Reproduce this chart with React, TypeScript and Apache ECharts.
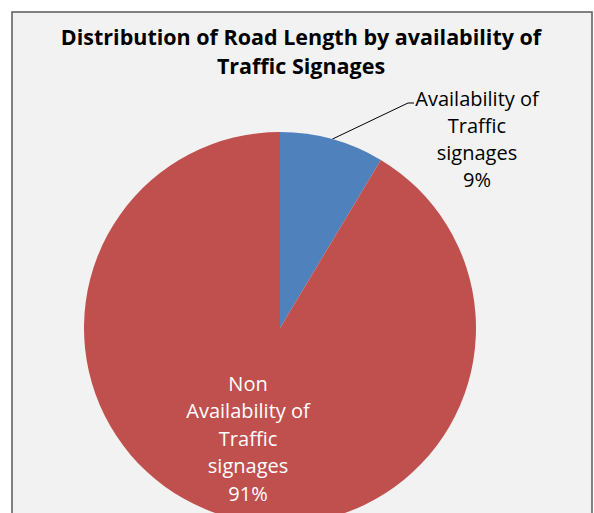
import React, { useEffect, useRef } from "react";
import * as echarts from "echarts";

const categories = ["Availability of\nTraffic\nsignages", "Non\nAvailability of\nTraffic\nsignages"];
const values = [8.6, 91.4];
const colors = ["#4f81bd", "#c0504d"];
const titleText = "Distribution of Road Length by availability of\nTraffic Signages";

export default function App() {
  const ref = useRef<HTMLDivElement>(null);
  useEffect(() => {
    if (!ref.current) return;
    const chart = echarts.init(ref.current, null, { renderer: "svg" });
    const font = "'Open Sans', Lato, sans-serif";
    const total = values.reduce((a, b) => a + b, 0);
    chart.setOption({
      animation: false,
      backgroundColor: "#ffffff",
      title: {
        text: titleText,
        left: 296,
        top: 17,
        textAlign: "center",
        textStyle: {
          fontFamily: font,
          fontWeight: "bold",
          fontSize: 21.5,
          lineHeight: 29,
          color: "#000000",
        },
      },
      graphic: [
        {
          type: "rect",
          z: -10,
          shape: { x: 12, y: 12, width: 580, height: 530 },
          style: { fill: "#f2f2f2", stroke: "#5a5a5a", lineWidth: 1.5 },
        },
      ],
      series: [
        {
          type: "pie",
          center: [280, 328],
          radius: 196,
          startAngle: 90,
          clockwise: true,
          silent: true,
          itemStyle: { borderWidth: 0 },
          data: categories.map((name, i) => ({
            name,
            value: values[i],
            itemStyle: { color: colors[i] },
            label:
              i === 0
                ? {
                    show: true,
                    position: "outside",
                    color: "#000000",
                    fontFamily: font,
                    fontSize: 20,
                    lineHeight: 27,
                    align: "center",
                  }
                : {
                    show: true,
                    position: "inside",
                    color: "#ffffff",
                    fontFamily: font,
                    fontSize: 20,
                    lineHeight: 27.5,
                    align: "center",
                  },
            labelLine:
              i === 0
                ? { show: true, length: 30, length2: 6, lineStyle: { color: "#000000", width: 1 } }
                : { show: false },
          })),
          label: {
            formatter: (p: any) => `${p.name}\n${Math.round((p.value / total) * 100)}%`,
          },
          labelLayout: (params: any) => {
            if (params.dataIndex === 0) {
              const p0 = params.labelLinePoints ? params.labelLinePoints[0] : [332, 139];
              return {
                x: 477,
                y: 139,
                align: "center",
                verticalAlign: "middle",
                labelLinePoints: [p0, [408, 103], [414, 103]],
              };
            }
            return { dx: -5, dy: 13 };
          },
        },
      ],
    });
    return () => chart.dispose();
  }, []);
  return (
    <div
      ref={ref}
      style={{ position: "fixed", left: 0, top: 0, width: 594, height: 513 }}
    />
  );
}
